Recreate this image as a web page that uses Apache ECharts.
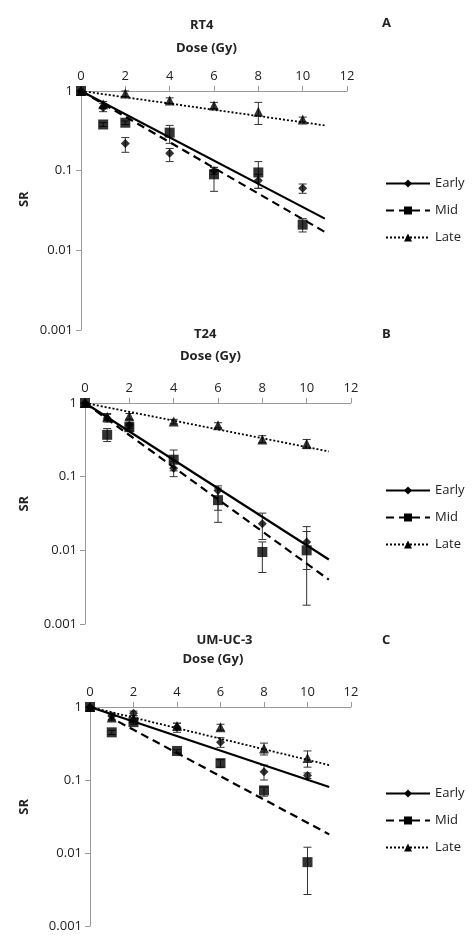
<!DOCTYPE html>
<html><head><meta charset="utf-8">
<script src="https://cdn.jsdelivr.net/npm/echarts@6/dist/echarts.min.js"></script>
<style>html,body{margin:0;padding:0;background:#fff}#c{width:474px;height:950px}</style>
</head><body><div id="c"></div>
<script>
const doses = [0, 1, 2, 4, 6, 8, 10];
const xTicks = [0, 2, 4, 6, 8, 10, 12];
const yTicks = [1, 0.1, 0.01, 0.001];
const panelTitles = ['RT4', 'T24', 'UM-UC-3'];
const panelLetters = ['A', 'B', 'C'];
// SR values
const rt4Early = [1, 0.62, 0.22, 0.165, 0.10, 0.075, 0.06];
const rt4Mid   = [1, 0.38, 0.40, 0.30, 0.09, 0.095, 0.021];
const rt4Late  = [1, 0.68, 0.93, 0.76, 0.66, 0.55, 0.44];
const t24Early = [1, 0.62, 0.50, 0.13, 0.065, 0.023, 0.013];
const t24Mid   = [1, 0.37, 0.47, 0.17, 0.048, 0.0095, 0.010];
const t24Late  = [1, 0.65, 0.66, 0.56, 0.50, 0.32, 0.28];
const umEarly  = [1, 0.75, 0.82, 0.53, 0.33, 0.13, 0.115];
const umMid    = [1, 0.45, 0.62, 0.25, 0.17, 0.072, 0.0075];
const umLate   = [1, 0.72, 0.70, 0.55, 0.53, 0.27, 0.20];
// error bars [low, high]
const rt4EarlyErr = [[1,1],[0.55,0.70],[0.17,0.26],[0.13,0.19],[0.09,0.11],[0.06,0.09],[0.052,0.068]];
const rt4MidErr   = [[1,1],[0.36,0.40],[0.38,0.42],[0.22,0.37],[0.055,0.11],[0.06,0.13],[0.017,0.025]];
const rt4LateErr  = [[1,1],[0.62,0.74],[0.85,1.0],[0.70,0.82],[0.60,0.72],[0.38,0.72],[0.41,0.47]];
const t24EarlyErr = [[1,1],[0.55,0.70],[0.45,0.55],[0.10,0.16],[0.035,0.075],[0.014,0.032],[0.0055,0.021]];
const t24MidErr   = [[1,1],[0.30,0.45],[0.42,0.52],[0.12,0.23],[0.024,0.07],[0.005,0.013],[0.0018,0.018]];
const t24LateErr  = [[1,1],[0.58,0.72],[0.60,0.72],[0.52,0.60],[0.46,0.54],[0.29,0.36],[0.24,0.32]];
const umEarlyErr  = [[1,1],[0.68,0.82],[0.76,0.88],[0.45,0.60],[0.28,0.38],[0.10,0.16],[0.105,0.125]];
const umMidErr    = [[1,1],[0.42,0.48],[0.58,0.66],[0.24,0.26],[0.15,0.19],[0.06,0.08],[0.0027,0.012]];
const umLateErr   = [[1,1],[0.66,0.78],[0.64,0.76],[0.50,0.60],[0.48,0.58],[0.22,0.32],[0.15,0.25]];
// fitted line endpoints [x, SR]
const rt4Fits = [[[0,1],[11,0.025]], [[0,1],[11,0.017]], [[0,1],[11,0.37]]];
const t24Fits = [[[0,1],[11,0.0075]], [[0,1],[11,0.004]], [[0,1],[11,0.22]]];
const umFits  = [[[0,1],[11,0.08]], [[1.3,0.63],[11,0.018]], [[0,1],[11,0.16]]];

const panels = [
  {vals:[rt4Early,rt4Mid,rt4Late], errs:[rt4EarlyErr,rt4MidErr,rt4LateErr], fits:rt4Fits,
   grid:{left:81,top:91,width:266,height:239}, title:28, dose:51, letter:[387,26], leg:172},
  {vals:[t24Early,t24Mid,t24Late], errs:[t24EarlyErr,t24MidErr,t24LateErr], fits:t24Fits,
   grid:{left:85,top:403,width:266,height:221}, title:337, dose:359, letter:[387,337], leg:479},
  {vals:[umEarly,umMid,umLate], errs:[umEarlyErr,umMidErr,umLateErr], fits:umFits,
   grid:{left:90,top:707,width:261,height:219}, title:643, dose:662, letter:[387,643], leg:782}
];
const names = ['Early','Mid','Late'];
const symbols = ['diamond','rect','triangle'];
const symSizes = [9, 10, 10];
const lineTypes = ['solid',[8,5],[2,2]];
const lineWidths = [2.2, 2.2, 1.8];
const font = 'Open Sans, sans-serif';
const gray = '#999';

const option = {animation:false, grid:[], xAxis:[], yAxis:[], series:[], legend:[], graphic:[]};
panels.forEach((p,i)=>{
  option.grid.push(p.grid);
  option.xAxis.push({type:'value', gridIndex:i, position:'top', min:0, max:12, interval:2,
    axisLine:{lineStyle:{color:gray}}, axisTick:{inside:false, length:5, lineStyle:{color:gray}},
    splitLine:{show:false}, axisLabel:{color:'#222', fontSize:13, fontFamily:font, margin:8}});
  option.yAxis.push({type:'log', gridIndex:i, min:0.001, max:1, logBase:10, inverse:false,
    axisLine:{show:true, lineStyle:{color:gray}}, axisTick:{show:true, length:5, lineStyle:{color:gray}},
    splitLine:{show:false}, minorTick:{show:false},
    axisLabel:{color:'#222', fontSize:13, fontFamily:font, margin:8, formatter:v=>String(+v.toPrecision(1))}});
  names.forEach((n,k)=>{
    // fit line (legend carrier)
    option.series.push({type:'line', name:n, xAxisIndex:i, yAxisIndex:i, symbol:symbols[k], symbolSize:symSizes[k],
      showSymbol:true, data:p.fits[k].map(d=>({value:d, symbol:'none'})),
      itemStyle:{color:'#000'}, lineStyle:{color:'#000', type:lineTypes[k], width:lineWidths[k]}, z:3});
    // error bars
    option.series.push({type:'custom', name:n+'-err', xAxisIndex:i, yAxisIndex:i,
      data:doses.map((d,j)=>[d, p.errs[k][j][0], p.errs[k][j][1]]),
      renderItem:(params, api)=>{
        const lo = api.coord([api.value(0), api.value(1)]);
        const hi = api.coord([api.value(0), api.value(2)]);
        const w = 4, st = {stroke:'#333', lineWidth:1};
        return {type:'group', children:[
          {type:'line', shape:{x1:lo[0],y1:lo[1],x2:hi[0],y2:hi[1]}, style:st},
          {type:'line', shape:{x1:lo[0]-w,y1:lo[1],x2:lo[0]+w,y2:lo[1]}, style:st},
          {type:'line', shape:{x1:hi[0]-w,y1:hi[1],x2:hi[0]+w,y2:hi[1]}, style:st}]};
      }, z:2});
    // points
    option.series.push({type:'scatter', name:n+'-pts', xAxisIndex:i, yAxisIndex:i,
      symbol:symbols[k], symbolSize:symSizes[k], itemStyle:{color:'#000'},
      data:doses.map((d,j)=>[d, p.vals[k][j]]), z:4});
  });
  option.legend.push({data:names, orient:'vertical', left:380, top:p.leg, itemWidth:44, itemHeight:10,
    itemGap:14, selectedMode:false, textStyle:{fontSize:13, fontFamily:font, color:'#222'}});
  const cx = p.grid.left + p.grid.width/2;
  option.graphic.push(
    {type:'text', left:cx-24, top:p.title-9, style:{text:panelTitles[i], font:'bold 13px '+font, fill:'#222', textAlign:'center'}},
    {type:'text', left:cx-38, top:p.dose-9, style:{text:'Dose (Gy)', font:'bold 13px '+font, fill:'#222'}},
    {type:'text', left:p.letter[0]-5, top:p.letter[1]-9, style:{text:panelLetters[i], font:'bold 13px '+font, fill:'#222'}},
    {type:'text', left:18, top:p.grid.top+p.grid.height*0.42, rotation:Math.PI/2,
      style:{text:'SR', font:'bold 13px '+font, fill:'#222'}}
  );
});
echarts.init(document.getElementById('c')).setOption(option);
</script></body></html>
